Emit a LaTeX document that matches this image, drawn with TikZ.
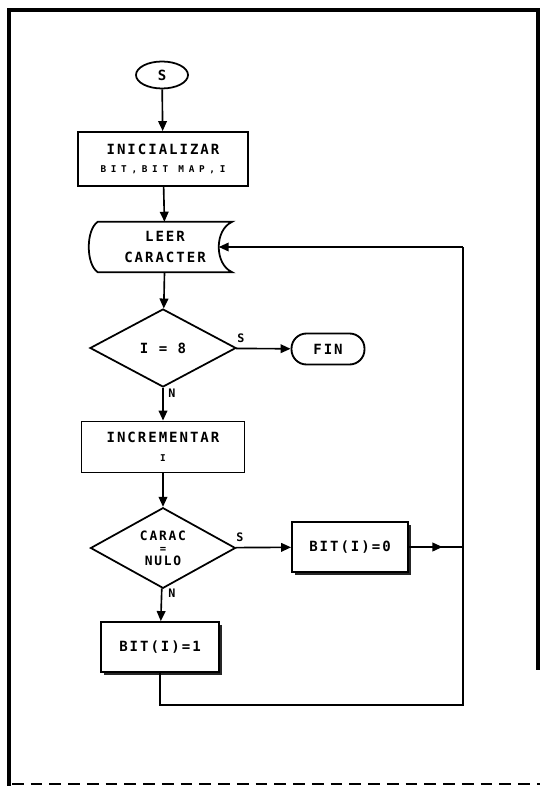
\documentclass[tikz,border=0pt]{standalone}
\usepackage{fontspec}
\usepackage{tikz}
\usetikzlibrary{arrows.meta,calc,shapes.geometric,shadows}
\newfontfamily\plotfont[LetterSpace=14]{DejaVu Sans Mono}
\newfontfamily\plotsmall[LetterSpace=50]{DejaVu Sans Mono}

\begin{document}
\begin{tikzpicture}[
  x=0.3mm, y=-0.3mm,
  txt/.style={font=\plotfont\bfseries\fontsize{12}{9.3}\selectfont},
  terminal/.style={ellipse,draw=black,fill=white,line width=1.5pt,
                   inner sep=0pt,txt},
  process/.style={rectangle,draw=black,fill=white,line width=1.6pt,
                  inner sep=0pt,align=center,txt},
  decision/.style={diamond,draw=black,fill=white,line width=1.5pt,
                   inner sep=0pt,align=center,txt},
  shadowed/.style={process,drop shadow={shadow xshift=0.9mm,
                   shadow yshift=-0.9mm,fill=black!85,opacity=1}},
  flow/.style={-{Triangle[length=3mm,width=2.6mm]},line width=1.4pt},
  line/.style={line width=1.4pt},
  frame/.style={line width=3pt},
  answer/.style={font=\plotfont\bfseries\fontsize{10}{12}\selectfont,
                 inner sep=0pt}
]
\useasboundingbox (0,0) rectangle (540,786);

% page frame
\draw[frame] (9,786) -- (9,10) -- (538,10) -- (538,670);
\draw[line width=1.2pt,dash pattern=on 10pt off 6pt] (12,784) -- (540,784);

% blocks
\node[terminal,minimum width=15.6mm,minimum height=8.1mm] (s) at (162,75) {S};
\node[process,minimum width=51mm,minimum height=16.2mm] (init) at (163,159)
  {INICIALIZAR\\[6pt]{\plotsmall\bfseries\fontsize{8}{9}\selectfont BIT,BIT MAP,I}};
\node[txt,align=center,inner sep=0pt,minimum width=40.2mm,minimum height=15mm]
  (leer) at (165,247) {LEER\\[9pt]CARACTER};
\node[decision,minimum width=43.8mm,minimum height=23.4mm] (d1) at (163,348) {I = 8};
\node[process,rounded corners=4.5mm,minimum width=21.9mm,minimum height=9.3mm]
  (fin) at (328,349) {FIN};
\node[process,minimum width=48.9mm,minimum height=15.3mm] (inc) at (163,447)
  {INCREMENTAR\\[7pt]{\plotsmall\bfseries\fontsize{8}{9}\selectfont I}};
\node[decision,minimum width=43.5mm,minimum height=22.2mm,
      font=\plotfont\bfseries\fontsize{11}{10.6}\selectfont] (d2) at (163,548)
  {CARAC\\{\fontsize{9}{9}\selectfont=}\\NULO};
\node[shadowed,minimum width=34.8mm,minimum height=15mm] (bit0) at (350,547) {BIT(I)=0};
\node[shadowed,minimum width=35.4mm,minimum height=15mm] (bit1) at (160,647) {BIT(I)=1};

% stored data outline of leer
\draw[line width=1.5pt] (leer.north west) -- (leer.north east)
  .. controls ($(leer.north east)+(-18,8)$) and ($(leer.south east)+(-18,-8)$) .. (leer.south east)
  -- (leer.south west)
  .. controls ($(leer.south west)+(-12,-8)$) and ($(leer.north west)+(-12,8)$) .. cycle;
\coordinate (leerin) at ($(leer.east)+(-13.5,0)$);
\coordinate (rail) at (463,705);

% answers
\node[answer] (s1) at (241,338) {S};
\node[answer] (n1) at (172,393) {N};
\node[answer] (s2) at (240,537) {S};
\node[answer] (n2) at (172,593) {N};

% connectors
\draw[flow] (s) -- (init);
\draw[flow] (init) -- (leer);
\draw[flow] (leer) -- (d1);
\draw[flow] (d1) -- (fin);
\draw[flow] (d1) -- (inc);
\draw[flow] (inc) -- (d2);
\draw[flow] (d2) -- (bit0);
\draw[flow] (d2) -- (bit1);
\draw[line] (bit0.east) -- (bit0.east -| rail);
\draw[flow] (bit0.east) -- ($(bit0.east)!0.62!(bit0.east -| rail)$);
\draw[line] (bit1.south) |- (rail) -- (rail |- leerin);
\draw[flow] (rail |- leerin) -- (leerin);
\end{tikzpicture}
\end{document}
